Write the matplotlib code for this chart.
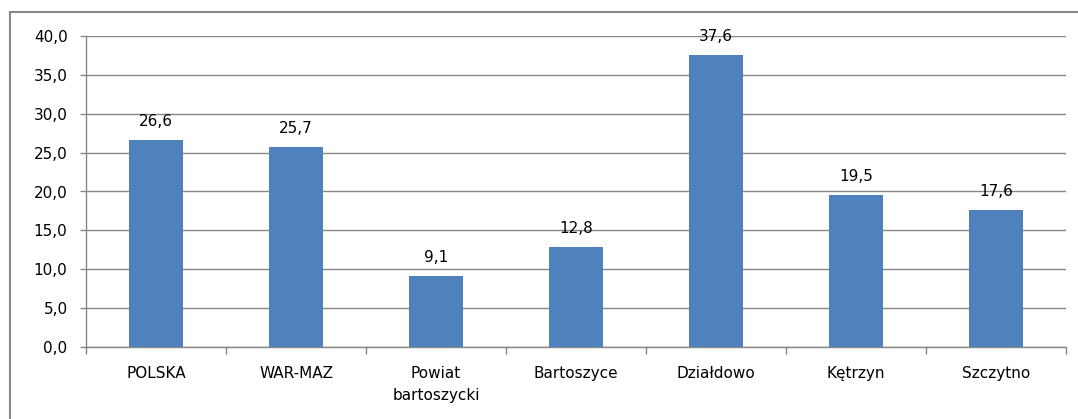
import matplotlib
matplotlib.use("Agg")
import matplotlib.pyplot as plt
from matplotlib.patches import Rectangle
from matplotlib.ticker import FixedLocator, FuncFormatter

categories = ["POLSKA", "WAR-MAZ", "Powiat\nbartoszycki", "Bartoszyce", "Działdowo", "Kętrzyn", "Szczytno"]
values = [26.6, 25.7, 9.1, 12.8, 37.6, 19.5, 17.6]
yticks = [0, 5, 10, 15, 20, 25, 30, 35, 40]

W, H = 1078, 419
fig = plt.figure(figsize=(W / 100, H / 100), dpi=100)
plt.rcParams['font.family'] = ['DejaVu Sans']

# plot area in pixels
left, right, top, bottom = 86, 1066, 36, 347
ax = fig.add_axes([left / W, 1 - bottom / H, (right - left) / W, (bottom - top) / H])

bar_color = "#4F81BD"
x = list(range(len(categories)))
bars = ax.bar(x, values, width=0.39, color=bar_color, zorder=3)

ax.set_xlim(-0.5, len(categories) - 0.5)
ax.set_ylim(0, 40)
ax.set_yticks(yticks)
ax.yaxis.set_major_formatter(FuncFormatter(lambda v, p: f"{v:.1f}".replace(".", ",")))
ax.grid(axis="y", color="#868686", linewidth=1.0, zorder=0)

ax.set_xticks(x)
ax.set_xticklabels(categories, fontsize=11, color="#000000", linespacing=1.55)
ax.tick_params(axis="x", which="major", length=0, pad=14)
ax.xaxis.set_minor_locator(FixedLocator([i - 0.5 for i in range(len(categories) + 1)]))
ax.tick_params(axis="x", which="minor", length=5, color="#868686", width=1)
ax.tick_params(axis="y", length=4.3, color="#868686", width=1, labelsize=11, pad=9)

for s in ["top", "right"]:
    ax.spines[s].set_visible(False)
for s in ["left", "bottom"]:
    ax.spines[s].set_color("#868686")
    ax.spines[s].set_linewidth(1.0)

for xi, v in zip(x, values):
    ax.annotate(f"{v:.1f}".replace(".", ","), (xi, v), xytext=(0, 8),
                textcoords="offset points", ha="center", va="bottom", fontsize=11)

# outer chart border
fig.patches.append(Rectangle((10 / W, -0.1), 1.2, 1 - 12 / H + 0.1, transform=fig.transFigure,
                             fill=False, edgecolor="#888888", linewidth=1.5))

fig.savefig("out.png", dpi=100)
